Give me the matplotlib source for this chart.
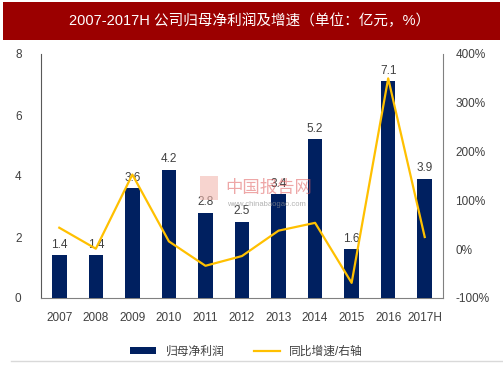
import matplotlib.pyplot as plt
import numpy as np
from matplotlib.lines import Line2D
from matplotlib.patches import Rectangle

plt.rcParams['font.family'] = ['Liberation Sans', 'Noto Sans CJK SC']

years = ['2007', '2008', '2009', '2010', '2011', '2012', '2013', '2014', '2015', '2016', '2017H']
profit = [1.4, 1.4, 3.6, 4.2, 2.8, 2.5, 3.4, 5.2, 1.6, 7.1, 3.9]
growth = [44, 1, 153, 16, -34, -14, 38, 54, -69, 350, 25]

navy = '#002060'
gold = '#FFC000'
txt = '#404040'

fig = plt.figure(figsize=(5.03, 3.78), dpi=100)
fig.patch.set_facecolor('white')

# title bar
fig.add_artist(Rectangle((3 / 503, 1 - 40 / 378), 497 / 503, 38 / 378,
                         transform=fig.transFigure, facecolor='#9B0000', edgecolor='none'))
fig.text(0.497, 1 - 21 / 378, '2007-2017H 公司归母净利润及增速（单位：亿元，%）',
         color='white', fontsize=10.5, ha='center', va='center')

ax = fig.add_axes([41 / 503, 80 / 378, 402 / 503, 244 / 378])
x = np.arange(len(years))
ax.bar(x, profit, width=0.4, color=navy, zorder=3, label='归母净利润')
for xi, v in zip(x, profit):
    ax.text(xi, v + 0.15, f'{v:.1f}', ha='center', va='bottom', fontsize=8.5, color=txt, zorder=5)
ax.set_xlim(-0.5, len(years) - 0.5)
ax.set_ylim(0, 8)
ax.set_yticks([0, 2, 4, 6, 8])
ax.set_xticks(x)
ax.set_xticklabels(years)
ax.tick_params(axis='both', length=0, labelsize=8.5, colors=txt)
ax.tick_params(axis='y', pad=14)
ax.tick_params(axis='x', pad=10)
for s in ['top', 'right']:
    ax.spines[s].set_visible(False)
ax.spines['left'].set_color('#595959')
ax.spines['bottom'].set_color('#808080')

ax2 = ax.twinx()
ax2.plot(x, growth, color=gold, linewidth=1.6, zorder=4, label='同比增速/右轴')
ax2.set_ylim(-100, 400)
ax2.set_yticks([-100, 0, 100, 200, 300, 400])
ax2.set_yticklabels([f'{t}%' for t in [-100, 0, 100, 200, 300, 400]])
ax2.tick_params(axis='y', length=0, labelsize=8.5, colors=txt, pad=9)
for s in ['top', 'left', 'bottom']:
    ax2.spines[s].set_visible(False)
ax2.spines['right'].set_color('#808080')

# watermark
fig.text(0.447, 1 - 188 / 378, '中国报告网', color='#E06060', alpha=0.55, fontsize=12.5,
         ha='left', va='center', zorder=1)
fig.text(0.452, 1 - 205 / 378, 'www.chinabaogao.com', color='#909090', alpha=0.7, fontsize=5.5,
         ha='left', va='center', zorder=1)
fig.add_artist(Rectangle((200 / 503, 1 - 200 / 378), 18 / 503, 24 / 378, transform=fig.transFigure,
                         facecolor='#F2B8B0', edgecolor='none', alpha=0.6, zorder=1))

h1, l1 = ax.get_legend_handles_labels()
h2, l2 = ax2.get_legend_handles_labels()
fig.legend(h1 + h2, l1 + l2, loc='center', bbox_to_anchor=(0.49, 1 - 352 / 378), ncol=2,
           frameon=False, fontsize=8.5, handlelength=2.2, handleheight=0.5, columnspacing=2.5,
           labelcolor=txt)

fig.add_artist(Line2D([11 / 503, 1], [1 - 361 / 378, 1 - 361 / 378], transform=fig.transFigure,
                      color='#D9D9D9', linewidth=1))

fig.savefig('out.png', dpi=100)
